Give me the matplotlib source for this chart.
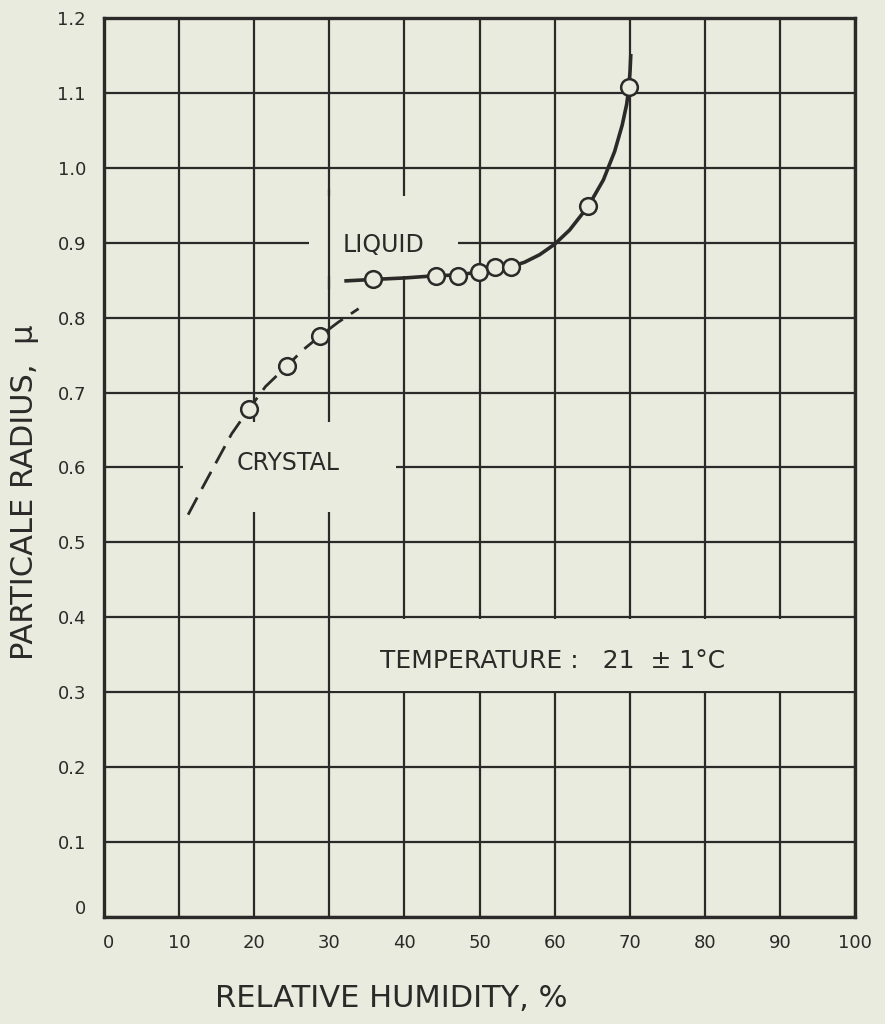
import matplotlib
matplotlib.use("Agg")
import matplotlib.pyplot as plt
from matplotlib.patches import Rectangle
import matplotlib.transforms as mtrans

# ---- data ----
crystal_rh = [19.3, 24.4, 28.7]
crystal_r = [0.678, 0.736, 0.775]

liquid_rh = [35.8, 44.2, 47.2, 49.9, 52.0, 54.2, 64.5, 69.9]
liquid_r = [0.851, 0.856, 0.855, 0.861, 0.868, 0.867, 0.949, 1.108]

crystal_curve_rh = [11.2, 13.0, 15.0, 17.0, 19.3, 21.5, 24.4, 26.5, 28.7, 31.2, 33.9]
crystal_curve_r = [0.537, 0.571, 0.608, 0.645, 0.678, 0.708, 0.736, 0.757, 0.775, 0.794, 0.812]

liquid_curve_rh = [32.0, 35.8, 40.0, 44.2, 47.2, 49.9, 52.0, 54.2, 56.0, 58.0, 60.0,
                   62.0, 64.5, 66.5, 68.0, 69.0, 69.6, 69.9, 70.05, 70.15]
liquid_curve_r = [0.849, 0.851, 0.853, 0.856, 0.857, 0.861, 0.866, 0.868, 0.874, 0.884, 0.898,
                  0.917, 0.949, 0.984, 1.022, 1.057, 1.085, 1.108, 1.130, 1.152]

x_ticks = [0, 10, 20, 30, 40, 50, 60, 70, 80, 90, 100]
x_tick_labels = ["0", "10", "20", "30", "40", "50", "60", "70", "80", "90", "100"]
y_ticks = [0.0, 0.1, 0.2, 0.3, 0.4, 0.5, 0.6, 0.7, 0.8, 0.9, 1.0, 1.1, 1.2]
y_tick_labels = ["0", "0.1", "0.2", "0.3", "0.4", "0.5", "0.6", "0.7", "0.8", "0.9", "1.0", "1.1", "1.2"]

label_liquid = "LIQUID"
label_crystal = "CRYSTAL"
label_temp = "TEMPERATURE :   21  \u00b1 1\u00b0C"
x_label = "RELATIVE HUMIDITY, %"
y_label = "PARTICALE RADIUS,  \u03bc"

BG = "#e9ebde"
LC = "#2b2a28"

plt.rcParams["font.family"] = ["DejaVu Sans"]

fig = plt.figure(figsize=(8.85, 10.24), dpi=100, facecolor=BG)
ax = fig.add_axes([104 / 885, 1 - 917 / 1024, 751 / 885, 899 / 1024])
ax.set_facecolor(BG)
ax.set_xlim(0, 100)
ax.set_ylim(0, 1.2)

ax.set_xticks(x_ticks)
ax.set_xticklabels(x_tick_labels)
ax.set_yticks(y_ticks)
ax.set_yticklabels(y_tick_labels)
ax.tick_params(axis="both", length=0, labelsize=13, colors=LC)
ax.tick_params(axis="x", pad=12)
ax.tick_params(axis="y", pad=13)

ax.grid(True, color=LC, lw=1.6)
ax.set_axisbelow(True)
for sp in ax.spines.values():
    sp.set_linewidth(2.4)
    sp.set_color(LC)

# masking boxes behind the annotation texts (breaks in the grid)
for (x0, y0, w, h) in [(27.35, 0.855, 19.85, 0.107),
                       (10.5, 0.541, 28.4, 0.120),
                       (30.25, 0.302, 69.7, 0.096)]:
    ax.add_patch(Rectangle((x0, y0), w, h, facecolor=BG, edgecolor="none", zorder=1))
# the 30 % grid line runs through the LIQUID break in the reference
ax.axvline(30, ymin=0.84 / 1.2, ymax=0.97 / 1.2, color=LC, lw=1.6, zorder=1.5)

# curves
ax.plot(crystal_curve_rh, crystal_curve_r, color=LC, lw=2.0, dashes=(7, 3.5),
        solid_capstyle="butt", zorder=2)
ax.plot(liquid_curve_rh, liquid_curve_r, color=LC, lw=2.6, solid_capstyle="butt", zorder=2)

# data points
ax.plot(crystal_rh, crystal_r, linestyle="none", marker="o", ms=12, mew=1.8,
        mfc=BG, mec=LC, zorder=3)
ax.plot(liquid_rh, liquid_r, linestyle="none", marker="o", ms=12, mew=1.8,
        mfc=BG, mec=LC, zorder=3)

# annotations
ax.text(37.2, 0.887, label_liquid, fontsize=17, color=LC, ha="center", va="baseline", zorder=4)
ax.text(24.5, 0.597, label_crystal, fontsize=17, color=LC, ha="center", va="baseline", zorder=4)
ax.text(36.7, 0.333, label_temp, fontsize=18, color=LC, ha="left", va="baseline", zorder=4)

ax.set_xlabel(x_label, fontsize=22, color=LC)
ax.xaxis.set_label_coords(0.382, -0.075)
ax.set_ylabel(y_label, fontsize=22, color=LC)
ax.yaxis.set_label_coords(-0.087, 0.472)

# small offsets of the "0" labels as in the reference
xl0 = ax.get_xticklabels()[0]
xl0.set_transform(xl0.get_transform() + mtrans.ScaledTranslation(5 / 100, 0, fig.dpi_scale_trans))
yl0 = ax.get_yticklabels()[0]
yl0.set_transform(yl0.get_transform() + mtrans.ScaledTranslation(0, 10 / 100, fig.dpi_scale_trans))

fig.savefig("out.png", dpi=100, facecolor=BG)
